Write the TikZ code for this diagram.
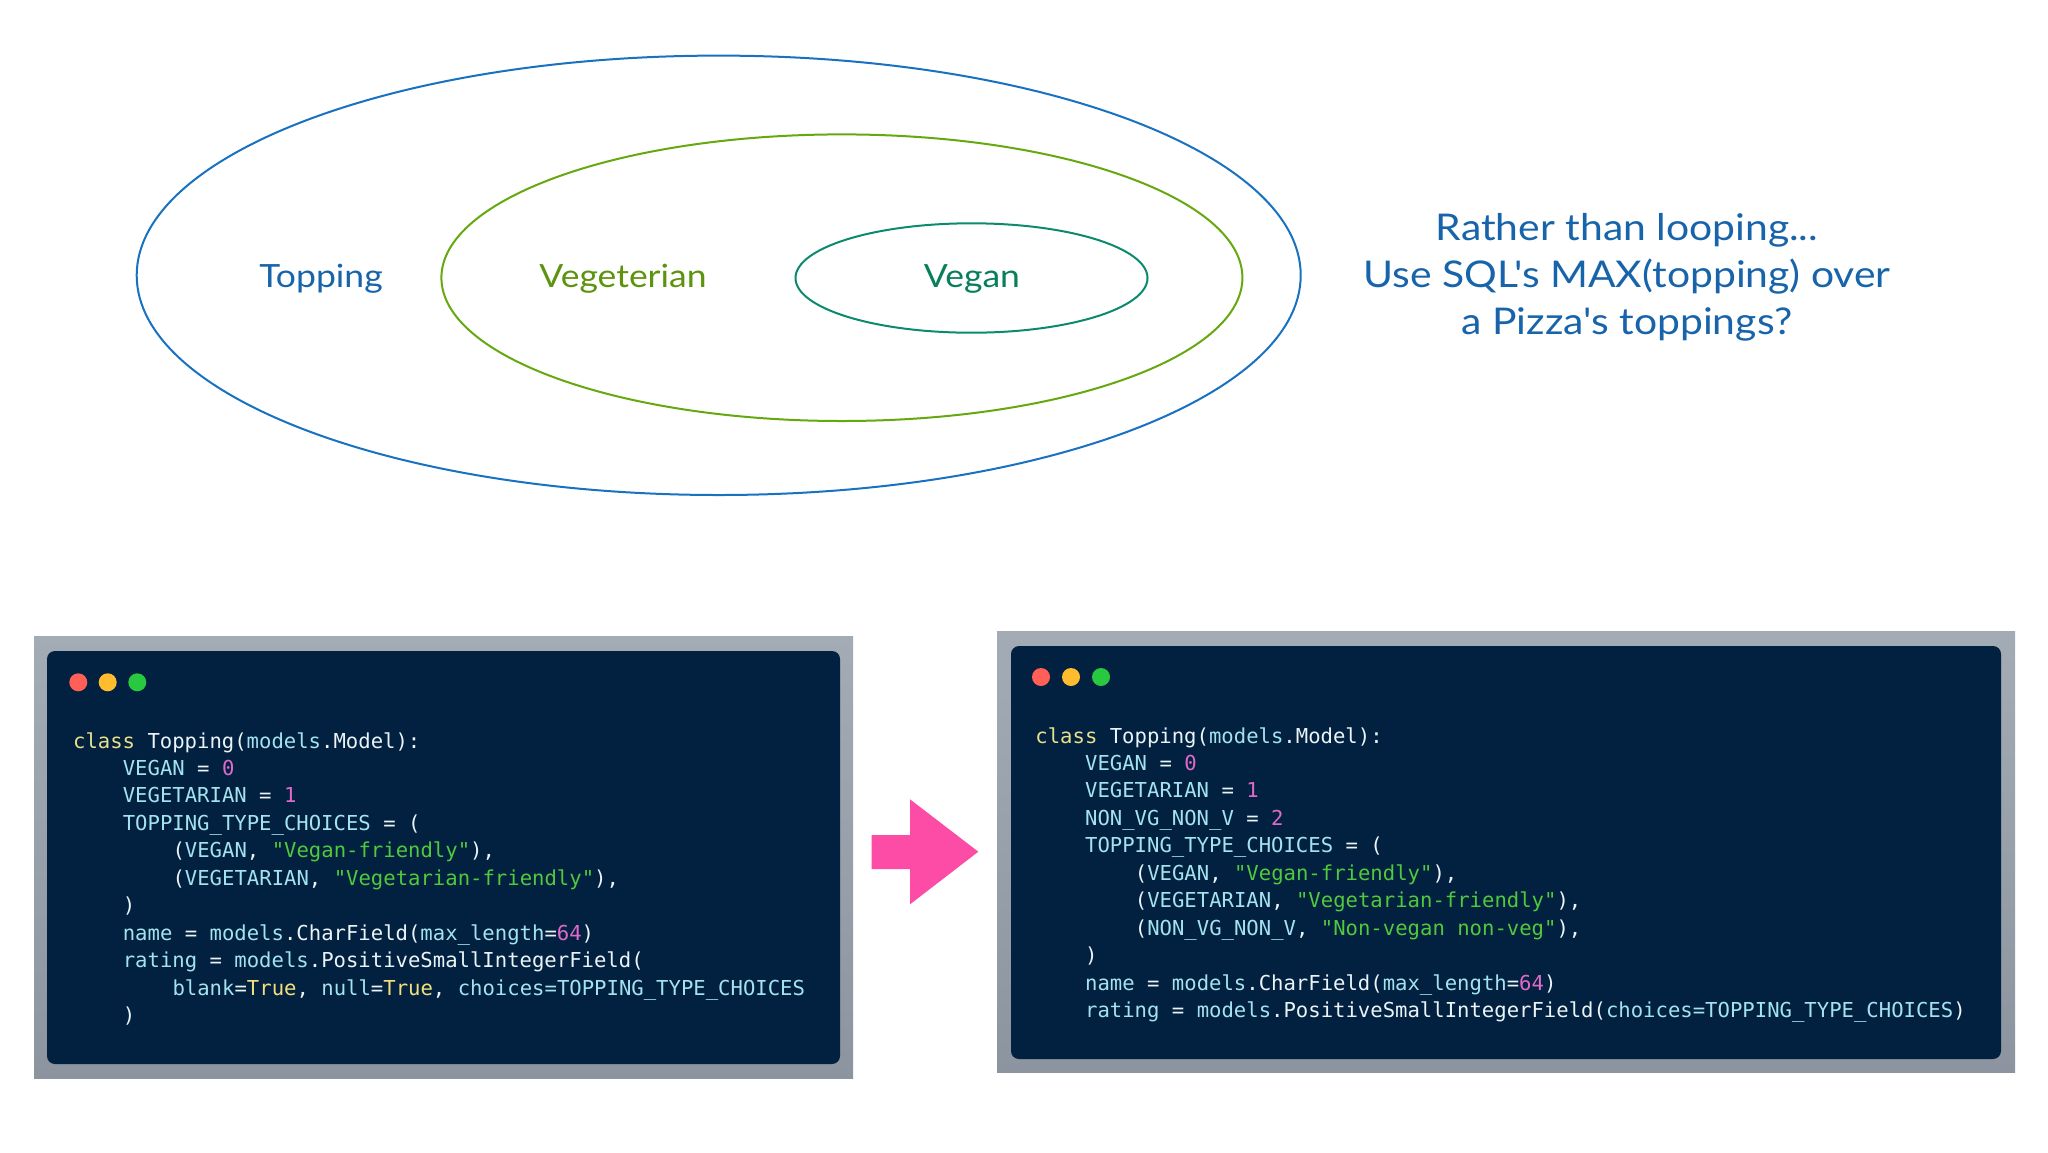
\documentclass[tikz,border=0pt]{standalone}
\usepackage{fontspec}
\setmonofont{DejaVu Sans Mono}
\newfontfamily\hand{Lato}[FakeStretch=1.11]
\definecolor{cblue}{HTML}{1971C2}
\definecolor{cbluetext}{HTML}{1864AB}
\definecolor{clime}{HTML}{66A80F}
\definecolor{climetext}{HTML}{5C940D}
\definecolor{cteal}{HTML}{0C8A6E}
\definecolor{ctealtext}{HTML}{087F5B}
\definecolor{cpanel}{HTML}{02203F}
\definecolor{cframetop}{HTML}{A3ABB5}
\definecolor{cframebot}{HTML}{8C949F}
\definecolor{cpink}{HTML}{FD4CA6}
\definecolor{cplain}{HTML}{EAF4F7}
\definecolor{cidc}{HTML}{A3E3F0}
\definecolor{ckwc}{HTML}{E8E08A}
\definecolor{cnumc}{HTML}{E06AC8}
\definecolor{cstrc}{HTML}{4FC93D}
\definecolor{ctruc}{HTML}{F2E07C}
\definecolor{cdotr}{HTML}{FF5F57}
\definecolor{cdoto}{HTML}{FEBC2E}
\definecolor{cdotg}{HTML}{28C840}
\newcommand\kwd[1]{\textcolor{ckwc}{#1}}
\newcommand\idt[1]{\textcolor{cidc}{#1}}
\newcommand\nmb[1]{\textcolor{cnumc}{#1}}
\newcommand\strg[1]{\textcolor{cstrc}{#1}}
\newcommand\tru[1]{\textcolor{ctruc}{#1}}
\newcommand\dq{\textquotedbl}
\tikzset{
  codeline/.style={anchor=base west, inner sep=0pt, text=cplain,
    font=\ttfamily\frenchspacing\fontsize{10.3}{13.7}\selectfont},
  setlabel/.style={inner sep=0pt, font=\hand\fontsize{16}{18}\selectfont},
  dot/.style={circle, inner sep=0pt, minimum size=9pt},
}
\begin{document}
\begin{tikzpicture}[x=0.5pt,y=-0.5pt]
\useasboundingbox (0,0) rectangle (2048,1152);
\fill[white] (0,0) rectangle (2048,1152);
% Ellipses
\draw[cblue, line width=1pt] (718.7,275.3) ellipse [x radius=582, y radius=219.7];
\draw[clime, line width=1pt] (841.9,277.7) ellipse [x radius=400.5, y radius=143.3];
\draw[cteal, line width=1pt] (971.5,278) ellipse [x radius=176, y radius=54.7];
\node[setlabel, text=cbluetext] (topping) at (321,279) {Topping};
\node[setlabel, text=climetext] (vegetarian) at (623,279) {Vegeterian};
\node[setlabel, text=ctealtext] (vegan) at (972,279) {Vegan};
\node[inner sep=0pt, text=cbluetext, align=center, font=\hand\fontsize{18.4}{23.5}\selectfont] (note) at (1627,277)
  {Rather than looping...\\Use SQL's MAX(topping) over\\a Pizza's toppings?};
% Left code panel
\shade[top color=cframetop, bottom color=cframebot] (34,636) rectangle (853,1078);
\fill[cpanel, rounded corners=4pt] (47,651) rectangle (840,1064);
\node[dot, fill=cdotr] (ldr) at (78.3,682.3) {};
\node[dot, fill=cdoto] (ldo) at (107.7,682.3) {};
\node[dot, fill=cdotg] (ldg) at (137.3,682.3) {};
\def\lx{72.7}\def\cw{12.43}\def\lb{748}\def\ls{27.45}
\node[codeline] (l1) at (\lx, \lb) {\kwd{class} Topping(\idt{models}.Model):};
\node[codeline] (l2) at (\lx+4*\cw, \lb+1*\ls) {\idt{VEGAN} = \nmb{0}};
\node[codeline] (l3) at (\lx+4*\cw, \lb+2*\ls) {\idt{VEGETARIAN} = \nmb{1}};
\node[codeline] (l4) at (\lx+4*\cw, \lb+3*\ls) {\idt{TOPPING\_TYPE\_CHOICES} = (};
\node[codeline] (l5) at (\lx+8*\cw, \lb+4*\ls) {(\idt{VEGAN}, \strg{\dq Vegan-friendly\dq}),};
\node[codeline] (l6) at (\lx+8*\cw, \lb+5*\ls) {(\idt{VEGETARIAN}, \strg{\dq Vegetarian-friendly\dq}),};
\node[codeline] (l7) at (\lx+4*\cw, \lb+6*\ls) {)};
\node[codeline] (l8) at (\lx+4*\cw, \lb+7*\ls) {\idt{name} = \idt{models}.CharField(\idt{max\_length}=\nmb{64})};
\node[codeline] (l9) at (\lx+4*\cw, \lb+8*\ls) {\idt{rating} = \idt{models}.PositiveSmallIntegerField(};
\node[codeline] (l10) at (\lx+8*\cw, \lb+9*\ls) {\idt{blank}=\tru{True}, \idt{null}=\tru{True}, \idt{choices=TOPPING\_TYPE\_CHOICES}};
\node[codeline] (l11) at (\lx+4*\cw, \lb+10*\ls) {)};
% Arrow
\fill[cpink] (871.7,835) -- (910,835) -- (910,799.3) -- (978.3,851.7) -- (910,904.3) -- (910,869) -- (871.7,869) -- cycle;
% Right code panel
\shade[top color=cframetop, bottom color=cframebot] (997,631) rectangle (2015,1072);
\fill[cpanel, rounded corners=4pt] (1011,646) rectangle (2001,1059);
\node[dot, fill=cdotr] (rdr) at (1041,677) {};
\node[dot, fill=cdoto] (rdo) at (1071,677) {};
\node[dot, fill=cdotg] (rdg) at (1101,677) {};
\def\rx{1035}\def\rb{743}
\node[codeline] (r1) at (\rx, \rb) {\kwd{class} Topping(\idt{models}.Model):};
\node[codeline] (r2) at (\rx+4*\cw, \rb+1*\ls) {\idt{VEGAN} = \nmb{0}};
\node[codeline] (r3) at (\rx+4*\cw, \rb+2*\ls) {\idt{VEGETARIAN} = \nmb{1}};
\node[codeline] (r4) at (\rx+4*\cw, \rb+3*\ls) {\idt{NON\_VG\_NON\_V} = \nmb{2}};
\node[codeline] (r5) at (\rx+4*\cw, \rb+4*\ls) {\idt{TOPPING\_TYPE\_CHOICES} = (};
\node[codeline] (r6) at (\rx+8*\cw, \rb+5*\ls) {(\idt{VEGAN}, \strg{\dq Vegan-friendly\dq}),};
\node[codeline] (r7) at (\rx+8*\cw, \rb+6*\ls) {(\idt{VEGETARIAN}, \strg{\dq Vegetarian-friendly\dq}),};
\node[codeline] (r8) at (\rx+8*\cw, \rb+7*\ls) {(\idt{NON\_VG\_NON\_V}, \strg{\dq Non-vegan non-veg\dq}),};
\node[codeline] (r9) at (\rx+4*\cw, \rb+8*\ls) {)};
\node[codeline] (r10) at (\rx+4*\cw, \rb+9*\ls) {\idt{name} = \idt{models}.CharField(\idt{max\_length}=\nmb{64})};
\node[codeline] (r11) at (\rx+4*\cw, \rb+10*\ls) {\idt{rating} = \idt{models}.PositiveSmallIntegerField(\idt{choices=TOPPING\_TYPE\_CHOICES})};
\end{tikzpicture}
\end{document}
